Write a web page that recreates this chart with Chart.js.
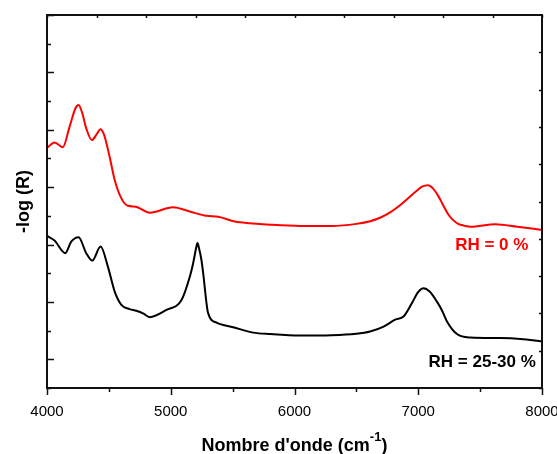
<!DOCTYPE html>
<html>
<head>
<meta charset="utf-8">
<script src="https://cdn.jsdelivr.net/npm/chart.js@4.4.1/dist/chart.umd.min.js"></script>
<style>
  html, body { margin: 0; padding: 0; background: #fff; }
  #wrap { width: 557px; height: 454px; position: relative; }
</style>
</head>
<body>
<div id="wrap"><canvas id="spectre" width="557" height="454"></canvas></div>
<script>
// RH = 0 % (rouge)
const redWave = [4000, 4061, 4128, 4182, 4230, 4255, 4285, 4317, 4363, 4405, 4431, 4460, 4506, 4547, 4601,
  4654, 4717, 4790, 4830, 5019, 5154, 5289, 5383, 5518, 5640, 5802, 6045, 6300, 6500, 6611, 6700, 6773,
  6850, 6909, 6990, 7030, 7079, 7120, 7165, 7200, 7246, 7280, 7327, 7370, 7421, 7624, 7800, 8000];
const redVal = [8.37, 8.56, 8.39, 9.10, 9.75, 9.86, 9.58, 9.05, 8.64, 8.87, 9.02, 8.84, 8.06, 7.25, 6.61,
  6.35, 6.32, 6.17, 6.11, 6.30, 6.15, 6.00, 5.97, 5.80, 5.74, 5.69, 5.65, 5.65, 5.72, 5.81, 5.95, 6.12,
  6.36, 6.58, 6.88, 7.02, 7.07, 6.95, 6.67, 6.38, 6.03, 5.86, 5.71, 5.66, 5.62, 5.71, 5.62, 5.51];

// RH = 25-30 % (noir)
const blackWave = [4000, 4061, 4147, 4196, 4255, 4317, 4366, 4433, 4492, 4547, 4601, 4668, 4722, 4780, 4830,
  4965, 5087, 5154, 5181, 5205, 5216, 5228, 5248, 5262, 5302, 5370, 5505, 5667, 5802, 6045, 6300, 6500,
  6611, 6720, 6814, 6881, 6949, 7000, 7043, 7090, 7151, 7190, 7232, 7313, 7421, 7664, 7826, 8000];
const blackVal = [5.30, 5.14, 4.70, 5.10, 5.25, 4.70, 4.44, 4.93, 4.23, 3.36, 2.90, 2.75, 2.69, 2.59, 2.47,
  2.72, 3.07, 3.88, 4.35, 4.88, 5.05, 4.88, 4.46, 4.00, 2.61, 2.28, 2.12, 1.93, 1.88, 1.83, 1.84, 1.89,
  1.97, 2.14, 2.38, 2.49, 2.96, 3.35, 3.48, 3.37, 3.01, 2.72, 2.32, 1.88, 1.76, 1.74, 1.71, 1.62];

const xTicks = [4000, 5000, 6000, 7000, 8000];
const seriesLabels = ['RH = 0 %', 'RH = 25-30 %'];

const toPts = (xs, ys) => xs.map((x, i) => ({ x: x, y: ys[i] }));

const FONT = '"Liberation Sans", Arial, sans-serif';

// cadre + graduations + titres
const framePlugin = {
  id: 'frame',
  afterDraw(chart) {
    const ctx = chart.ctx;
    const a = chart.chartArea;
    const xs = chart.scales.x, ys = chart.scales.y;
    ctx.save();
    ctx.strokeStyle = '#111';
    ctx.lineWidth = 2;
    ctx.strokeRect(a.left, a.top, a.right - a.left, a.bottom - a.top);
    ctx.lineWidth = 1.5;
    ctx.beginPath();
    // bas : graduations vers l'extérieur
    for (let v = 4000; v <= 8000; v += 500) {
      const px = Math.round(xs.getPixelForValue(v)) + 0.5;
      const len = v % 1000 === 0 ? 7 : 4;
      ctx.moveTo(px, a.bottom); ctx.lineTo(px, a.bottom + len);
    }
    // haut : petites graduations vers l'intérieur
    for (let v = 4000; v <= 8000; v += 400) {
      const px = Math.round(xs.getPixelForValue(v)) + 0.5;
      ctx.moveTo(px, a.top); ctx.lineTo(px, a.top + 3);
    }
    // gauche : vers l'intérieur
    for (let v = 0; v <= 13; v++) {
      const py = Math.round(ys.getPixelForValue(v)) + 0.5;
      const len = v % 2 === 1 ? 7 : 4;
      ctx.moveTo(a.left, py); ctx.lineTo(a.left + len, py);
    }
    // droite : vers l'intérieur
    for (let v = 0; v <= 13; v += 1.3) {
      const py = Math.round(ys.getPixelForValue(v)) + 0.5;
      ctx.moveTo(a.right, py); ctx.lineTo(a.right - 3, py);
    }
    ctx.stroke();

    // titre x avec exposant
    ctx.fillStyle = '#000';
    ctx.textBaseline = 'alphabetic';
    const main = "Nombre d'onde (cm";
    const big = 'bold 18px ' + FONT, small = 'bold 13px ' + FONT;
    ctx.font = big;
    const w1 = ctx.measureText(main).width;
    const w3 = ctx.measureText(')').width;
    ctx.font = small;
    const w2 = ctx.measureText('-1').width;
    const cx = (a.left + a.right) / 2;
    const x0 = cx - (w1 + w2 + w3) / 2;
    const base = 451;
    ctx.textAlign = 'left';
    ctx.font = big;
    ctx.fillText(main, x0, base);
    ctx.font = small;
    ctx.fillText('-1', x0 + w1, base - 10);
    ctx.font = big;
    ctx.fillText(')', x0 + w1 + w2, base);

    // titre y
    ctx.save();
    ctx.translate(29, (a.top + a.bottom) / 2);
    ctx.rotate(-Math.PI / 2);
    ctx.textAlign = 'center';
    ctx.font = big;
    ctx.fillText('-log (R)', 0, 0);
    ctx.restore();

    // étiquettes des courbes
    ctx.font = 'bold 17px ' + FONT;
    ctx.textAlign = 'right';
    ctx.fillStyle = '#ff0000';
    ctx.fillText(seriesLabels[0], xs.getPixelForValue(7890), ys.getPixelForValue(4.81));
    ctx.fillStyle = '#000';
    ctx.fillText(seriesLabels[1], xs.getPixelForValue(7950), ys.getPixelForValue(0.74));
    ctx.restore();
  }
};

new Chart(document.getElementById('spectre').getContext('2d'), {
  type: 'line',
  data: {
    datasets: [
      {
        label: seriesLabels[0],
        data: toPts(redWave, redVal),
        borderColor: '#ff0000',
        borderWidth: 2,
        pointRadius: 0,
        cubicInterpolationMode: 'monotone',
      },
      {
        label: seriesLabels[1],
        data: toPts(blackWave, blackVal),
        borderColor: '#000000',
        borderWidth: 2,
        pointRadius: 0,
        cubicInterpolationMode: 'monotone',
      },
    ],
  },
  options: {
    responsive: false,
    animation: false,
    layout: { padding: { top: 15, right: 15, left: 0, bottom: 0 } },
    plugins: {
      legend: { display: false },
      tooltip: { enabled: false },
    },
    scales: {
      x: {
        type: 'linear',
        min: 4000,
        max: 8000,
        afterBuildTicks: (s) => { s.ticks = xTicks.map(v => ({ value: v })); },
        afterFit: (s) => { s.height = 66; s.paddingLeft = 0; s.paddingRight = 0; },
        grid: { display: false, drawTicks: false },
        border: { display: false },
        ticks: {
          padding: 15,
          color: '#000',
          maxRotation: 0,
          callback: (v) => String(v),
          font: { family: FONT, size: 15 },
        },
      },
      y: {
        min: 0,
        max: 13,
        afterFit: (s) => { s.width = 47; },
        grid: { display: false, drawTicks: false },
        border: { display: false },
        ticks: { display: false },
      },
    },
  },
  plugins: [framePlugin],
});
</script>
</body>
</html>
